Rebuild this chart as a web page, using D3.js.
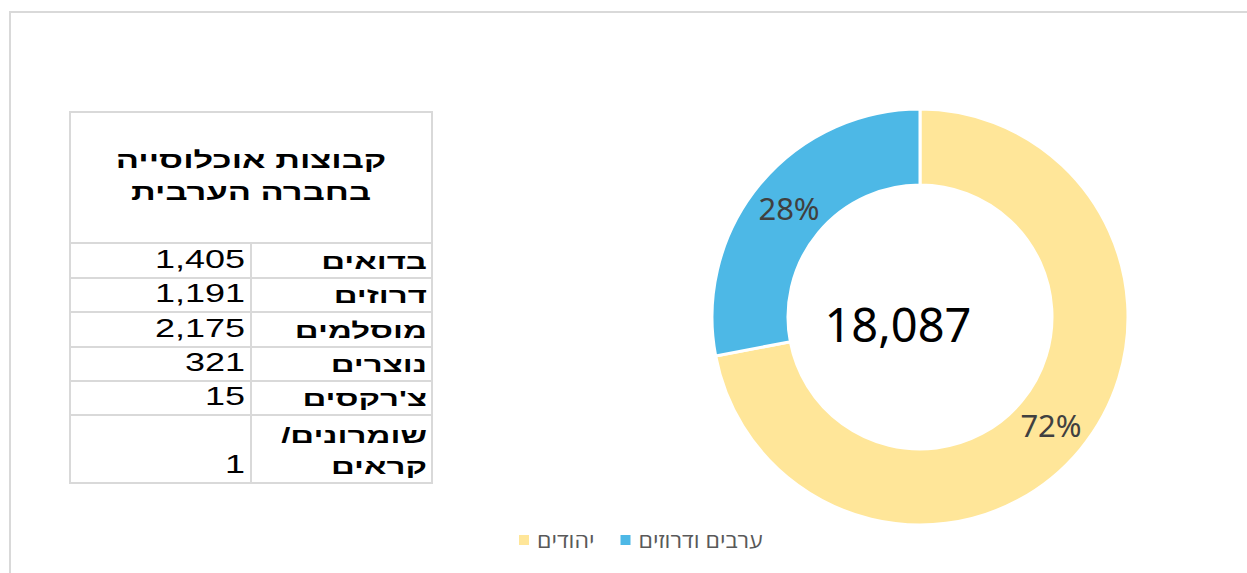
<!DOCTYPE html>
<html>
<head>
<meta charset="utf-8">
<script src="https://cdn.jsdelivr.net/npm/d3@7"></script>
<style>
  body { margin: 0; background: #fff; }
</style>
</head>
<body>
<div id="chart"></div>
<script>
// dati del grafico ad anello
var seriesNames = ["יהודים", "ערבים ודרוזים"];
var seriesValues = [72, 28];
var seriesColors = ["#FFE699", "#4DB8E6"];
var totalLabel = "18,087";

// dati della tabella a sinistra
var tableTitle = ["קבוצות אוכלוסייה", "בחברה הערבית"];
var tableGroups = ["בדואים", "דרוזים", "מוסלמים", "נוצרים", "צ'רקסים", ["שומרונים/", "קראים"]];
var tableValues = [1405, 1191, 2175, 321, 15, 1];

var W = 1247, H = 573;

var svg = d3.select("#chart").append("svg")
    .attr("width", W).attr("height", H);

// cornice esterna
svg.append("path")
    .attr("d", "M10," + H + " V12 H" + W)
    .attr("fill", "none")
    .attr("stroke", "#d9d9d9")
    .attr("stroke-width", 2);

// ******************* tabella *******************
var tb = { left: 70, right: 432, top: 112, headBottom: 243, split: 251 };
var rowLines = [243, 278, 312, 347, 381, 415, 483];
var sx = 1.5;
var tableFont = "'Liberation Sans', Arial, sans-serif";

var tg = svg.append("g");
tg.append("rect")
    .attr("x", tb.left).attr("y", tb.top)
    .attr("width", tb.right - tb.left).attr("height", rowLines[rowLines.length - 1] - tb.top)
    .attr("fill", "#fff").attr("stroke", "#d9d9d9").attr("stroke-width", 2);

rowLines.slice(0, -1).forEach(function (y) {
    tg.append("line").attr("x1", tb.left).attr("x2", tb.right)
        .attr("y1", y).attr("y2", y)
        .attr("stroke", "#d9d9d9").attr("stroke-width", 2);
});
tg.append("line").attr("x1", tb.split).attr("x2", tb.split)
    .attr("y1", tb.headBottom).attr("y2", rowLines[rowLines.length - 1])
    .attr("stroke", "#d9d9d9").attr("stroke-width", 2);

// titolo della tabella
tableTitle.forEach(function (t, i) {
    tg.append("text")
        .attr("transform", "translate(" + ((tb.left + tb.right) / 2) + "," + (168 + i * 32) + ") scale(" + sx + ",1)")
        .attr("text-anchor", "middle")
        .attr("direction", "rtl")
        .attr("font-family", tableFont)
        .attr("font-weight", "bold")
        .attr("font-size", 23)
        .attr("fill", "#000")
        .text(t);
});

var fmt = d3.format(",");
tableGroups.forEach(function (g, i) {
    var bottom = rowLines[i + 1];
    var lines = Array.isArray(g) ? g : [g];
    lines.forEach(function (l, k) {
        tg.append("text")
            .attr("transform", "translate(427," + (bottom - 9 - (lines.length - 1 - k) * 31) + ") scale(" + sx + ",1)")
            .attr("text-anchor", "start")
            .attr("direction", "rtl")
            .attr("font-family", tableFont)
            .attr("font-weight", "bold")
            .attr("font-size", 22)
            .attr("fill", "#000")
            .text(l);
    });
    tg.append("text")
        .attr("transform", "translate(245," + (bottom - 10) + ") scale(1.44,1)")
        .attr("text-anchor", "end")
        .attr("font-family", tableFont)
        .attr("font-size", 25)
        .attr("fill", "#000")
        .text(fmt(tableValues[i]));
});

// ******************* grafico ad anello *******************
var cx = 920, cy = 317, rOut = 208, rIn = 132;

var pie = d3.pie().sort(null).value(function (d) { return d; });
var arcs = pie(seriesValues);
var arc = d3.arc().innerRadius(rIn).outerRadius(rOut);

var dg = svg.append("g").attr("transform", "translate(" + cx + "," + cy + ")");
dg.selectAll("path.slice").data(arcs).enter().append("path")
    .attr("class", "slice")
    .attr("d", arc)
    .attr("fill", function (d, i) { return seriesColors[i]; })
    .attr("stroke", "#fff")
    .attr("stroke-width", 3);

dg.selectAll("text.pct").data(arcs).enter().append("text")
    .attr("class", "pct")
    .attr("transform", function (d) { return "translate(" + arc.centroid(d) + ")"; })
    .attr("text-anchor", "middle")
    .attr("dy", "0.36em")
    .attr("font-family", "'Noto Sans', 'Open Sans', sans-serif")
    .attr("font-size", 31)
    .attr("fill", "#404040")
    .text(function (d) { return d.data + "%"; });

dg.append("text")
    .attr("x", -22).attr("y", 25)
    .attr("text-anchor", "middle")
    .attr("font-family", "'Noto Sans', 'Open Sans', sans-serif")
    .attr("font-size", 47)
    .attr("fill", "#000")
    .text(totalLabel);

// ******************* legenda *******************
var legendFont = "'Open Sans', 'Noto Sans', 'DejaVu Sans', sans-serif";
var lsx = 1.1;
var lg = svg.append("g").attr("transform", "translate(0,540)");
var lx = 519;
seriesNames.forEach(function (name, i) {
    var item = lg.append("g").attr("transform", "translate(" + lx + ",0)");
    item.append("rect")
        .attr("x", 0).attr("y", -5)
        .attr("width", 10).attr("height", 10)
        .attr("fill", seriesColors[i]);
    var t = item.append("text")
        .attr("transform", "translate(18,8) scale(" + lsx + ",1)")
        .attr("font-family", legendFont)
        .attr("font-size", 21)
        .attr("fill", "#595959")
        .text(name);
    lx += 18 + t.node().getBBox().width * lsx + 26;
});
</script>
</body>
</html>
